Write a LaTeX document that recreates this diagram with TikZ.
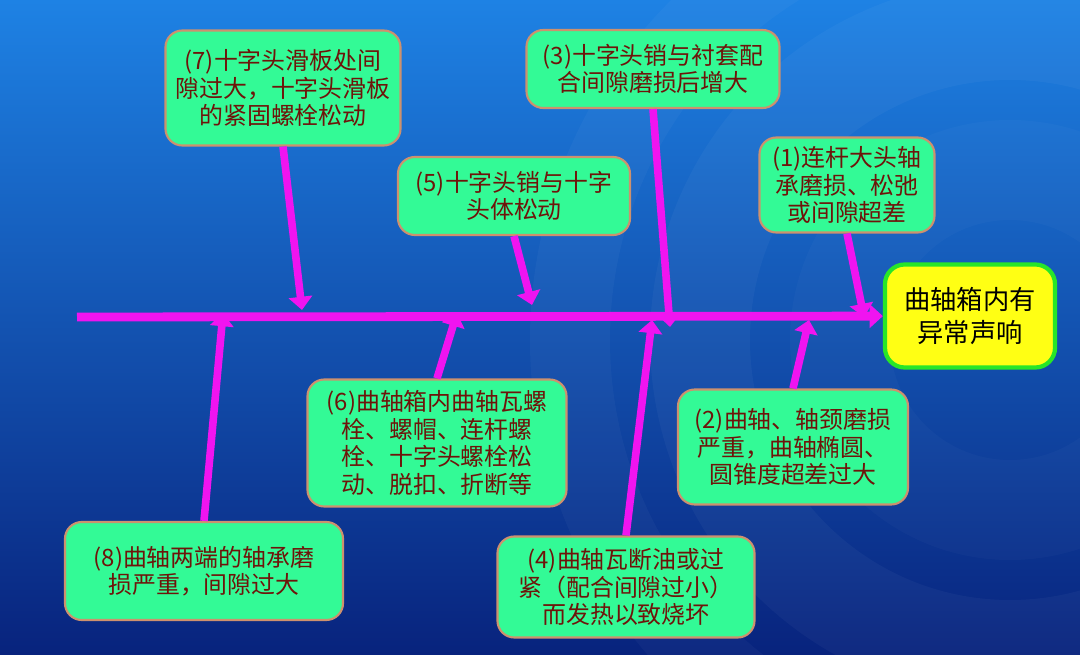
\documentclass[tikz,border=0pt]{standalone}
\usepackage{fontspec}
\newfontfamily\cjk{Noto Sans CJK SC}
\usetikzlibrary{arrows.meta}
\definecolor{bgtop}{RGB}{30,130,228}
\definecolor{bgmid}{RGB}{18,85,195}
\definecolor{bgbot}{RGB}{8,35,125}
\definecolor{boxfill}{RGB}{51,250,150}
\definecolor{boxline}{RGB}{205,145,110}
\definecolor{txt}{RGB}{110,20,10}
\definecolor{bonecol}{RGB}{240,20,240}
\definecolor{effline}{RGB}{40,230,40}
\definecolor{efffill}{RGB}{255,255,20}
\tikzset{
  cause/.style={draw=boxline,line width=1.5pt,fill=boxfill,rounded corners=12pt,
    align=center,text=txt,inner sep=2pt,font=\cjk\fontsize{17}{19.5}\selectfont},
  effect/.style={draw=effline,line width=3pt,fill=efffill,rounded corners=14pt,
    align=center,inner sep=2pt,font=\cjk\fontsize{18.7}{23.5}\selectfont},
  bone/.style={draw=bonecol,line width=0.19cm},
  spine/.style={draw=bonecol,line width=0.22cm},
}
\begin{document}
\begin{tikzpicture}[x=0.025cm,y=-0.025cm,->,>={Triangle[length=0.33cm,width=0.58cm]}]
  % background
  \shade[-,top color=bgtop,middle color=bgmid,bottom color=bgbot] (0,0) rectangle (1080,655);
  \useasboundingbox (0,0) rectangle (1080,655);
  \begin{scope}[-]
    \clip (0,0) rectangle (1080,655);
    \draw[white,opacity=0.035,line width=2.5cm] (1010,340) circle (310);
    \draw[white,opacity=0.03,line width=2cm] (1010,340) circle (440);
    \draw[white,opacity=0.025,line width=2.5cm] (1010,340) circle (170);
  \end{scope}

  % effect and causes
  \node[effect,minimum width=4.25cm,minimum height=2.575cm] (eff) at (970,316) {曲轴箱内有\\异常声响};
  \node[cause,minimum width=4.375cm,minimum height=2.375cm] (c1) at (847,185) {(1)连杆大头轴\\承磨损、松弛\\或间隙超差};
  \node[cause,minimum width=5.75cm,minimum height=2.875cm] (c2) at (793,447) {(2)曲轴、轴颈磨损\\严重，曲轴椭圆、\\圆锥度超差过大};
  \node[cause,minimum width=6.325cm,minimum height=1.95cm] (c3) at (653,69) {(3)十字头销与衬套配\\合间隙磨损后增大};
  \node[cause,minimum width=6.425cm,minimum height=2.525cm] (c4) at (626,587) {(4)曲轴瓦断油或过\\紧（配合间隙过小）\\而发热以致烧坏};
  \node[cause,minimum width=5.8cm,minimum height=1.95cm] (c5) at (514,196) {(5)十字头销与十字\\头体松动};
  \node[cause,minimum width=6.475cm,minimum height=3.175cm] (c6) at (437,443) {(6)曲轴箱内曲轴瓦螺\\栓、螺帽、连杆螺\\栓、十字头螺栓松\\动、脱扣、折断等};
  \node[cause,minimum width=5.875cm,minimum height=2.875cm] (c7) at (283,88) {(7)十字头滑板处间\\隙过大，十字头滑板\\的紧固螺栓松动};
  \node[cause,minimum width=6.95cm,minimum height=2.45cm] (c8) at (204,571) {(8)曲轴两端的轴承磨\\损严重，间隙过大};

  % ends of the bones on the spine
  \coordinate (s0) at (77,317);
  \coordinate (t1) at (864,317);
  \coordinate (t2) at (809,320);
  \coordinate (t3) at (670,327);
  \coordinate (t4) at (652,320);
  \coordinate (t5) at (532,305);
  \coordinate (t6) at (457,313);
  \coordinate (t7) at (302,310);
  \coordinate (t8) at (223,313);

  \draw[spine] (s0) to (eff);
  \draw[bone] (c7.south) to (t7);
  \draw[bone] (c5.south) to (t5);
  \draw[bone] (c3.south) to (t3);
  \draw[bone] (c1.south) to (t1);
  \draw[bone] (c8.north) to (t8);
  \draw[bone] (c6.north) to (t6);
  \draw[bone] (c4.north) to (t4);
  \draw[bone] (c2.north) to (t2);
\end{tikzpicture}
\end{document}
